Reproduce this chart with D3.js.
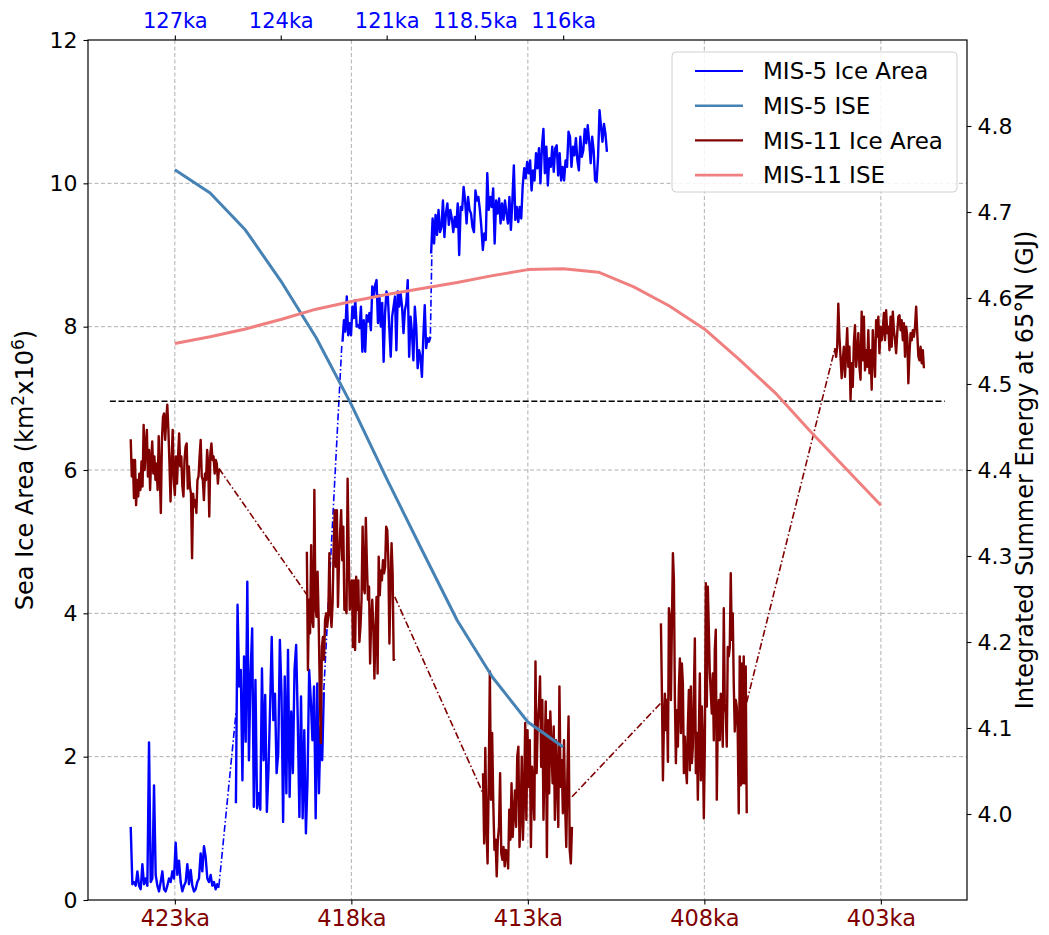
<!DOCTYPE html>
<html><head><meta charset="utf-8">
<script src="https://cdn.jsdelivr.net/npm/d3@7"></script>
<style>
body{margin:0;background:#fff}
text{font-family:"DejaVu Sans","Liberation Sans",sans-serif}
</style>
</head><body>
<svg id="chart" width="1049" height="935"></svg>
<script>
// ---------------- data ----------------
const bottomTicks = [423, 418, 413, 408, 403];
const bottomTickLabels = ["423ka", "418ka", "413ka", "408ka", "403ka"];
const topTicks = [127, 124, 121, 118.5, 116];
const topTickLabels = ["127ka", "124ka", "121ka", "118.5ka", "116ka"];
const mis5Offset = 296; // MIS-5 age + offset = MIS-11 age on shared axis
const leftTicks = [0, 2, 4, 6, 8, 10, 12];
const rightTicks = [4.0, 4.1, 4.2, 4.3, 4.4, 4.5, 4.6, 4.7, 4.8];
const rightTickLabels = ["4.0", "4.1", "4.2", "4.3", "4.4", "4.5", "4.6", "4.7", "4.8"];

// Integrated summer energy (GJ)
const mis5IseAges = [127, 126, 125, 124, 123, 122, 121, 120, 119, 118, 117, 116];
const mis5IseValues = [4.749, 4.722, 4.679, 4.620, 4.554, 4.476, 4.390, 4.307, 4.225, 4.159, 4.107, 4.078];
const mis11IseAges = [423, 422, 421, 420, 419, 418, 417, 416, 415, 414, 413, 412, 411, 410, 409, 408, 407, 406, 405, 404, 403];
const mis11IseValues = [4.547, 4.555, 4.564, 4.575, 4.587, 4.596, 4.604, 4.611, 4.618, 4.626, 4.633, 4.634, 4.630, 4.613, 4.591, 4.564, 4.528, 4.490, 4.445, 4.402, 4.359];

// Sea ice area segments: [startAge, endAge] and values on a regular time grid
const mis5SegAges = [[128.25, 125.75], [125.27, 122.78], [122.25, 119.76], [119.74, 114.76]];
const mis5SegA = [1.02,0.22,0.25,0.2,0.4,0.2,0.15,0.5,0.22,0.3,0.2,2.2,0.25,0.3,1.6,0.35,0.2,0.12,0.25,0.4,0.15,0.12,0.2,0.3,0.25,0.4,0.3,0.8,0.35,0.55,0.25,0.12,0.2,0.25,0.5,0.22,0.42,0.2,0.12,0.15,0.25,0.3,0.65,0.4,0.75,0.6,0.3,0.25,0.35,0.2,0.25,0.15,0.22,0.17];
const mis5SegB = [1.35,4.12,2.98,3.21,1.67,3.40,2.21,4.44,1.95,3.16,3.79,1.30,3.07,1.28,1.49,1.26,3.23,1.95,2.86,1.23,1.81,2.70,3.67,2.51,2.88,1.77,2.05,3.63,2.88,1.09,3.12,1.49,3.49,1.44,2.63,1.77,3.21,3.56,2.51,1.16,2.84,1.14,2.37,0.93,1.67,3.21,2.79,2.23,2.98,1.14,3.02,1.49,2.42,1.95,2.9];
const mis5SegC = [7.79,8.09,7.93,8.42,7.88,8.05,7.88,8.28,8.12,8.37,8.00,8.02,7.98,8.28,7.65,8.09,7.65,8.16,8.07,8.19,7.95,8.56,8.42,8.58,8.65,8.05,8.44,8.00,8.33,7.51,8.19,8.49,8.42,7.98,7.58,8.14,8.28,8.42,7.67,8.49,8.28,8.46,8.28,7.91,8.23,8.33,8.65,7.58,8.14,7.91,7.53,8.28,8.00,7.42,7.67,7.58,7.30,7.86,8.30,7.70,7.84,7.79,7.86];
const mis5SegD = [9.02,9.51,9.16,9.56,9.28,9.63,9.32,9.39,9.76,9.25,9.58,9.72,9.42,9.63,9.51,9.32,9.53,9.39,9.72,9.00,9.67,9.63,9.95,9.76,9.44,9.81,9.63,9.58,9.39,9.32,9.90,9.76,9.81,9.63,9.39,9.07,9.30,9.21,10.14,9.63,9.81,9.67,9.93,9.16,9.76,9.58,9.79,9.44,9.72,9.49,9.76,9.58,9.44,9.81,9.35,9.76,10.25,9.49,9.67,9.46,9.67,9.51,9.97,10.21,10.07,10.30,10.14,10.32,9.90,10.18,10.04,10.42,10.21,10.49,10.00,10.51,10.76,10.14,10.51,9.97,10.35,10.23,10.51,10.16,10.49,10.53,10.11,10.42,10.04,10.23,10.04,10.32,10.23,10.72,10.65,10.23,10.51,10.39,10.63,10.32,10.18,10.65,10.37,10.46,10.76,10.56,10.81,10.58,10.28,10.65,10.46,10.04,10.02,10.37,11.02,10.79,10.58,10.83,10.69,10.44];
const mis5Connectors = [[[125.75, 0.20], [125.27, 2.60]], [[122.78, 2.93], [122.27, 7.74]], [[119.76, 7.90], [119.72, 9.02]]];

const mis11SegAges = [[424.25, 421.75], [419.26, 416.77], [414.27, 411.75], [409.23, 406.80], [404.30, 401.78]];
const mis11Seg1 = [6.43,5.91,6.14,5.61,6.14,5.51,5.86,5.63,5.95,5.72,6.12,5.77,6.63,6.00,6.33,6.56,5.91,6.28,5.72,6.14,6.40,5.95,6.19,5.86,6.09,5.72,6.47,5.95,5.40,6.42,6.74,6.79,6.42,6.70,6.91,6.56,6.09,5.56,6.14,6.56,5.86,5.65,6.19,5.81,6.19,6.51,6.05,6.19,5.77,5.63,6.14,6.33,6.37,5.74,6.05,5.77,5.67,4.77,5.67,5.49,5.58,5.40,5.86,5.91,6.19,6.42,5.91,5.86,5.58,5.95,5.86,6.28,6.09,5.35,6.23,6.37,6.14,6.19,5.95,6.14,6.09,5.81,6.02];
const mis11Seg2 = [4.86,3.21,4.19,3.72,4.95,3.91,3.81,5.72,4.09,3.95,4.58,3.91,2.98,2.19,3.53,3.67,3.35,3.91,4.00,3.81,4.00,4.84,4.00,3.81,4.14,4.93,5.44,4.65,5.44,4.09,4.74,5.12,5.44,4.74,5.21,4.05,4.09,4.00,5.88,4.88,4.05,4.37,4.46,3.53,4.46,3.49,4.51,4.05,4.46,3.60,3.81,4.19,5.21,4.37,4.28,5.33,4.70,4.19,4.37,3.30,3.91,4.19,3.81,3.09,3.72,4.23,3.16,4.79,4.25,4.60,4.46,4.74,4.56,4.65,5.21,5.16,4.74,3.58,4.37,4.98,4.56,3.35,3.37];
const mis11Seg3 = [1.77,0.79,2.12,1.02,0.51,1.67,3.19,1.40,2.33,1.35,0.70,0.84,0.33,0.84,1.02,1.77,0.65,0.56,0.74,0.47,0.70,0.65,0.44,1.26,0.84,1.63,0.88,1.21,1.53,1.02,2.00,2.14,0.74,1.21,2.00,0.84,1.44,2.47,1.12,2.37,1.58,2.23,0.74,1.86,1.53,1.12,3.33,1.77,2.47,2.70,3.12,1.86,2.79,1.12,2.00,2.77,0.60,2.51,1.49,2.63,2.14,1.63,2.42,1.12,2.23,1.67,1.02,2.98,1.58,1.95,1.21,2.23,1.30,0.74,1.77,2.56,0.70,0.51,1.02];
const mis11Seg4 = [3.86,2.88,1.67,2.49,2.88,2.37,2.79,1.93,4.07,3.95,2.79,3.86,4.84,4.47,2.79,1.91,2.65,2.14,2.98,3.37,2.33,3.30,3.02,1.77,2.28,1.86,1.63,2.42,2.93,1.81,2.98,1.91,2.14,2.88,3.65,1.77,2.33,1.40,2.33,3.16,1.67,2.70,2.23,1.14,2.14,4.42,2.70,4.37,3.77,3.16,2.88,2.60,3.16,2.23,3.49,3.77,1.40,2.56,2.79,2.23,2.88,2.70,2.14,4.07,2.74,2.60,2.14,3.53,3.40,3.53,4.56,3.63,4.00,3.02,2.35,2.79,2.70,2.33,1.21,3.40,1.60,3.30,1.63,3.40,1.63,3.26,1.21];
const mis11Seg5 = [7.70,7.58,7.72,8.32,7.86,7.58,7.28,7.53,7.72,7.30,7.63,7.98,7.44,7.72,6.98,7.49,7.16,7.77,8.02,7.44,7.63,7.91,7.44,7.26,8.21,7.53,8.14,7.39,7.67,7.44,7.95,7.35,7.67,7.12,7.95,7.63,7.30,8.09,7.86,8.14,7.63,8.00,7.81,7.95,8.19,7.81,8.23,7.91,8.00,7.67,8.14,7.72,8.21,7.95,7.81,7.63,7.91,8.14,8.16,7.95,8.09,7.81,8.05,7.58,8.00,7.86,7.21,7.63,7.91,7.81,7.95,7.86,8.00,8.28,7.91,7.58,7.53,7.72,7.49,7.67,7.42];
const mis11Connectors = [[[421.75, 6.02], [419.26, 4.26]], [[416.77, 4.23], [414.27, 1.49]], [[411.75, 1.44], [409.23, 2.75]], [[406.80, 2.76], [404.30, 7.70]]];

const thresholdValue = 6.96;
const thresholdAges = [424.84, 401.19];

const legendLabels = ["MIS-5 Ice Area", "MIS-5 ISE", "MIS-11 Ice Area", "MIS-11 ISE"];
const colors = {mis5Ice: "#0000ff", mis5Ise: "#4682b4", mis11Ice: "#800000", mis11Ise: "#f08080"};

// ---------------- layout ----------------
const svg = d3.select("#chart");
const L = 88, R = 967, T = 40, B = 900;
const x = d3.scaleLinear().domain([425.46, 400.56]).range([L, R]);
const xTop = d3.scaleLinear().domain([425.46 - mis5Offset, 400.56 - mis5Offset]).range([L, R]);
const y = d3.scaleLinear().domain([0, 12]).range([B, T]);
const y2 = d3.scaleLinear().domain([3.9, 4.9]).range([B, T]);

svg.append("defs").append("clipPath").attr("id", "clip")
  .append("rect").attr("x", L).attr("y", T).attr("width", R - L).attr("height", B - T);

// grid
const grid = svg.append("g");
grid.selectAll(".gx").data(bottomTicks).join("line")
  .attr("x1", d => x(d)).attr("x2", d => x(d)).attr("y1", T).attr("y2", B)
  .attr("stroke", "#b0b0b0").attr("stroke-width", 1).attr("stroke-dasharray", "4,2.5");
grid.selectAll(".gy").data(leftTicks.slice(1, -1)).join("line")
  .attr("x1", L).attr("x2", R).attr("y1", d => y(d)).attr("y2", d => y(d))
  .attr("stroke", "#b0b0b0").attr("stroke-width", 1).attr("stroke-dasharray", "4,2.5");

const plot = svg.append("g").attr("clip-path", "url(#clip)");
const lineFn = (xs, ys) => d3.line().x(d => xs(d[0])).y(d => ys(d[1]));
const segPoints = (ages, vals, off) => vals.map((v, i) => [ages[0] + (ages[1] - ages[0]) * i / (vals.length - 1) + off, v]);
const dashDot = "7,2.5,1.5,2.5";

// MIS-5 ice area
mis5Connectors.forEach(c => {
  plot.append("path").attr("d", lineFn(x, y)(c.map(p => [p[0] + mis5Offset, p[1]])))
    .attr("fill", "none").attr("stroke", colors.mis5Ice).attr("stroke-width", 1.6).attr("stroke-dasharray", dashDot);
});
[mis5SegA, mis5SegB, mis5SegC, mis5SegD].forEach((vals, i) => {
  plot.append("path").attr("d", lineFn(x, y)(segPoints(mis5SegAges[i], vals, mis5Offset)))
    .attr("fill", "none").attr("stroke", colors.mis5Ice).attr("stroke-width", 2.4).attr("stroke-linejoin", "round");
});
// MIS-11 ice area
mis11Connectors.forEach(c => {
  plot.append("path").attr("d", lineFn(x, y)(c))
    .attr("fill", "none").attr("stroke", colors.mis11Ice).attr("stroke-width", 1.6).attr("stroke-dasharray", dashDot);
});
[mis11Seg1, mis11Seg2, mis11Seg3, mis11Seg4, mis11Seg5].forEach((vals, i) => {
  plot.append("path").attr("d", lineFn(x, y)(segPoints(mis11SegAges[i], vals, 0)))
    .attr("fill", "none").attr("stroke", colors.mis11Ice).attr("stroke-width", 2.4).attr("stroke-linejoin", "round");
});
// threshold
plot.append("line").attr("x1", x(thresholdAges[0])).attr("x2", x(thresholdAges[1]))
  .attr("y1", y(thresholdValue)).attr("y2", y(thresholdValue))
  .attr("stroke", "#000").attr("stroke-width", 1.5).attr("stroke-dasharray", "6,2.6");

// ISE on twin axis
plot.append("path").attr("d", lineFn(x, y2)(mis5IseAges.map((a, i) => [a + mis5Offset, mis5IseValues[i]])))
  .attr("fill", "none").attr("stroke", colors.mis5Ise).attr("stroke-width", 3).attr("stroke-linejoin", "round");
plot.append("path").attr("d", lineFn(x, y2)(mis11IseAges.map((a, i) => [a, mis11IseValues[i]])))
  .attr("fill", "none").attr("stroke", colors.mis11Ise).attr("stroke-width", 3).attr("stroke-linejoin", "round");

// frame
svg.append("rect").attr("x", L).attr("y", T).attr("width", R - L).attr("height", B - T)
  .attr("fill", "none").attr("stroke", "#000").attr("stroke-width", 1.2);

// axes
function styleAxis(g, size, color) {
  g.select(".domain").remove();
  g.selectAll(".tick line").attr("stroke", "#000").attr("stroke-width", 1.1);
  g.selectAll(".tick text").attr("font-size", size).attr("fill", color).attr("font-family", "DejaVu Sans");
}
svg.append("g").attr("transform", `translate(${L},0)`)
  .call(d3.axisLeft(y).tickValues(leftTicks).tickFormat(d3.format("d")).tickSize(4.5).tickPadding(6))
  .call(g => styleAxis(g, 22, "#000"));
svg.append("g").attr("transform", `translate(${R},0)`)
  .call(d3.axisRight(y2).tickValues(rightTicks).tickFormat((d, i) => rightTickLabels[i]).tickSize(4.5).tickPadding(6))
  .call(g => styleAxis(g, 22, "#000"));
svg.append("g").attr("transform", `translate(0,${B})`)
  .call(d3.axisBottom(x).tickValues(bottomTicks).tickFormat((d, i) => bottomTickLabels[i]).tickSize(4.5).tickPadding(6))
  .call(g => styleAxis(g, 22.5, colors.mis11Ice));
svg.append("g").attr("transform", `translate(0,${T})`)
  .call(d3.axisTop(xTop).tickValues(topTicks).tickFormat((d, i) => topTickLabels[i]).tickSize(4.5).tickPadding(8))
  .call(g => styleAxis(g, 21, colors.mis5Ice));

// axis labels
const yl = svg.append("text").attr("transform", `translate(33,${(T + B) / 2}) rotate(-90)`)
  .attr("text-anchor", "middle").attr("font-size", 24).attr("fill", "#000");
yl.append("tspan").text("Sea Ice Area (km");
yl.append("tspan").attr("font-size", 17).attr("dy", -9).text("2");
yl.append("tspan").attr("dy", 9).text("x10");
yl.append("tspan").attr("font-size", 17).attr("dy", -9).text("6");
yl.append("tspan").attr("dy", 9).text(")");
svg.append("text").attr("transform", `translate(1033,${(T + B) / 2}) rotate(-90)`)
  .attr("text-anchor", "middle").attr("font-size", 24).attr("fill", "#000")
  .text("Integrated Summer Energy at 65°N (GJ)");

// legend
const lg = svg.append("g");
lg.append("rect").attr("x", 672).attr("y", 52).attr("width", 285).attr("height", 140).attr("rx", 4)
  .attr("fill", "#fff").attr("fill-opacity", 0.85).attr("stroke", "#d0d0d0").attr("stroke-width", 1);
const legColors = [colors.mis5Ice, colors.mis5Ise, colors.mis11Ice, colors.mis11Ise];
const legW = [2.2, 2.6, 2.2, 2.6];
legendLabels.forEach((lab, i) => {
  const cy = 71 + i * 34.7;
  lg.append("line").attr("x1", 695).attr("x2", 743).attr("y1", cy).attr("y2", cy)
    .attr("stroke", legColors[i]).attr("stroke-width", legW[i]);
  lg.append("text").attr("x", 763).attr("y", cy).attr("dy", "0.36em").attr("font-size", 23).attr("fill", "#000").text(lab);
});
</script>
</body></html>
